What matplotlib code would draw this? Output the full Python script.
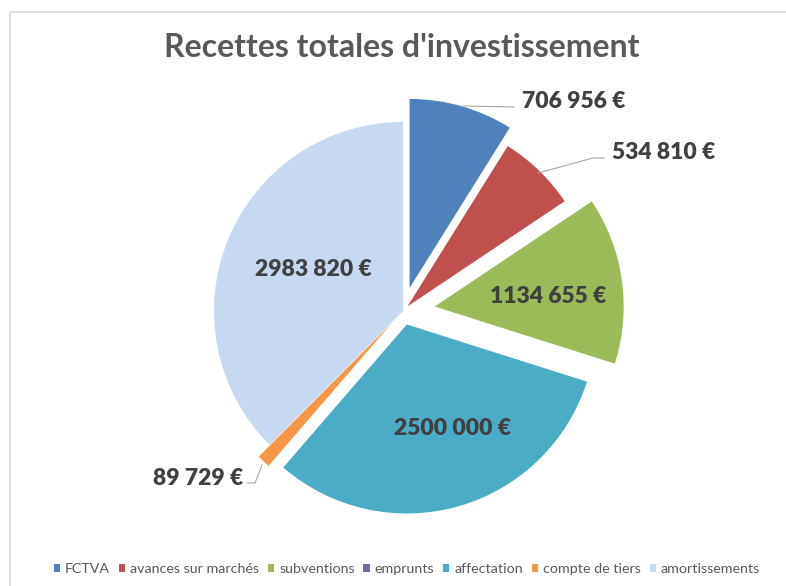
import matplotlib
matplotlib.use("Agg")
import matplotlib.pyplot as plt
from matplotlib.patches import Patch
from matplotlib.lines import Line2D

# ---- data ----
categories = ["FCTVA", "avances sur marchés", "subventions", "emprunts",
              "affectation", "compte de tiers", "amortissements"]
values = [706956, 534810, 1134655, 0, 2500000, 89729, 2983820]
colors = ["#4F81BD", "#C0504D", "#9BBB59", "#8064A2", "#4BACC6", "#F79646", "#C6D9F0"]
title = "Recettes totales d'investissement"

# ---- layout (pixel space) ----
W, H = 786, 586
def P(x, y):
    return (x, H - y)

center_px = (403, 311)
radius = 189
explode_px = [24, 6.5, 32, 0, 14, 16, 0]

def fmt(v):
    return f"{v // 1000} {v % 1000:03d} €"

# label anchor: (x, baseline y, ha)
label_pos = {
    "FCTVA": (522, 108, "left"),
    "avances sur marchés": (612, 159, "left"),
    "subventions": (548, 303, "center"),
    "affectation": (453, 435, "center"),
    "compte de tiers": (243, 485, "right"),
    "amortissements": (313, 276, "center"),
}
leaders = {
    "FCTVA": [(463, 106), (514, 107)],
    "avances sur marchés": [(538, 173), (593, 158), (604, 158)],
    "compte de tiers": [(262, 465), (255, 483), (247, 483)],
}

plt.rcParams["font.family"] = ["Lato", "DejaVu Sans"]

fig = plt.figure(figsize=(W / 100, H / 100), dpi=100)
ax = fig.add_axes([0, 0, 1, 1])

ax.pie(values, colors=colors, explode=explode_px, radius=radius,
       center=P(*center_px), startangle=90, counterclock=False,
       wedgeprops=dict(linewidth=0))
ax.set_xlim(0, W)
ax.set_ylim(0, H)
ax.set_aspect("equal")
ax.axis("off")

# frame
ax.add_line(Line2D([9.5, 9.5], [H - 11.5, 0], color="#D9D9D9", lw=1.2))
ax.add_line(Line2D([9.5, W], [H - 11.5, H - 11.5], color="#D9D9D9", lw=1.2))

# title
ax.text(*P(402, 57), title, ha="center", va="baseline", fontsize=23,
        fontweight="bold", color="#595959")

# leader lines
for name, pts in leaders.items():
    xs = [p[0] for p in pts]
    ys = [H - p[1] for p in pts]
    ax.add_line(Line2D(xs, ys, color="#A6A6A6", lw=0.8))

# data labels
for cat, v in zip(categories, values):
    if v == 0 or cat not in label_pos:
        continue
    x, y, ha = label_pos[cat]
    ax.text(*P(x, y), fmt(v), ha=ha, va="baseline", fontsize=16.5,
            fontweight="heavy", color="#404040")

# legend
handles = [Patch(facecolor=c, edgecolor="none") for c in colors]
leg = fig.legend(handles, categories, loc="center", ncol=7, frameon=False,
                 bbox_to_anchor=(407 / W, 1 - 569 / H), fontsize=10.3,
                 handlelength=0.45, handleheight=0.45, handletextpad=0.35,
                 columnspacing=0.6, borderaxespad=0)
for t in leg.get_texts():
    t.set_color("#595959")

fig.savefig("out.png", dpi=100, facecolor="white")
